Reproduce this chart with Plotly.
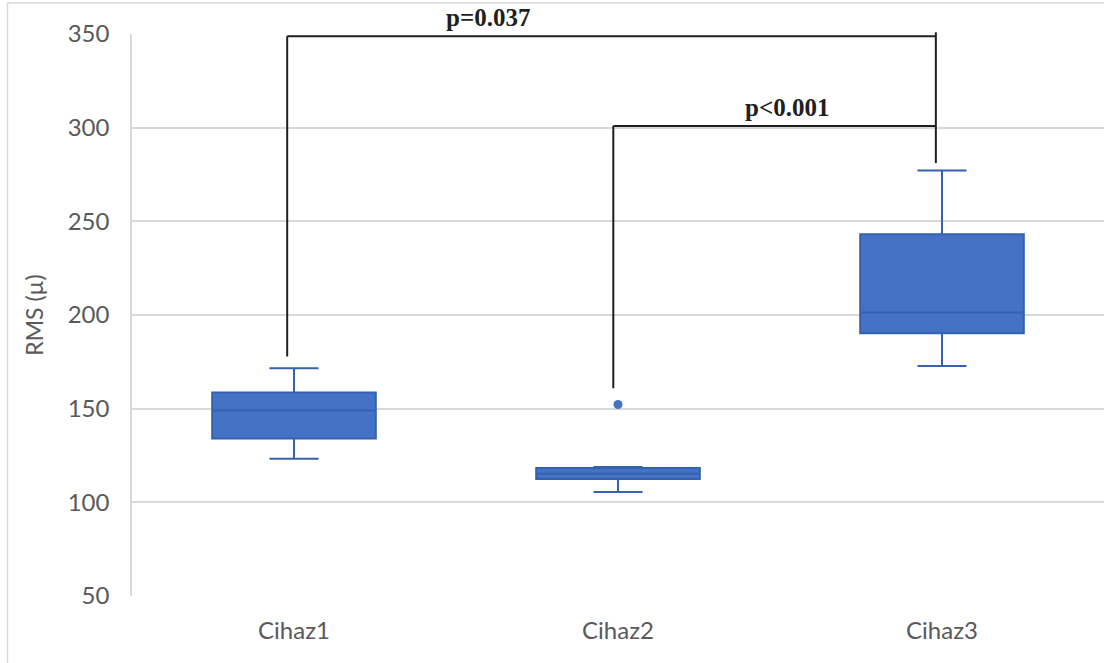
import plotly.graph_objects as go

# Box-plot summary statistics per device (RMS, µ)
categories = ["Cihaz1", "Cihaz2", "Cihaz3"]
q1 = [134.1, 112.4, 190.2]
median = [149.0, 115.3, 201.4]
q3 = [158.6, 118.3, 243.1]
lower_fence = [123.3, 105.5, 172.8]
upper_fence = [171.6, 118.8, 277.2]

# Outlying observations
outlier_x = ["Cihaz2"]
outlier_y = [152.2]

# Pairwise comparisons: (left group, right group, p-value label)
comparisons = [("Cihaz1", "Cihaz3", "p=0.037"), ("Cihaz2", "Cihaz3", "p<0.001")]

Y_MIN, Y_MAX = 50, 350
BLUE = "#4472C4"
EDGE = "#3661AE"
INK = "#1f1f1f"


def px(cat, shift=0.0):
    """Category position -> paper x."""
    return (categories.index(cat) + shift + 0.5) / len(categories)


def py(v):
    """Value -> paper y."""
    return (v - Y_MIN) / (Y_MAX - Y_MIN)


fig = go.Figure()

fig.add_trace(go.Box(
    x=categories,
    q1=q1, median=median, q3=q3,
    lowerfence=lower_fence, upperfence=upper_fence,
    fillcolor=BLUE,
    line=dict(color=EDGE, width=2),
    whiskerwidth=0.3,
    width=0.505,
    boxpoints=False,
    hoverinfo="skip",
    showlegend=False,
))

fig.add_trace(go.Scatter(
    x=outlier_x, y=outlier_y, mode="markers",
    marker=dict(color=BLUE, size=9),
    hoverinfo="skip", showlegend=False,
))

# Significance brackets
leg_shift = {"Cihaz1": -0.021, "Cihaz2": -0.0145, "Cihaz3": -0.019}
bracket_y = [348.8, 300.9]
left_leg_end = [177.8, 160.9]
right_top, right_bottom = 350.9, 281.1
label_pos = [(0.600, 353.9), (1.523, 305.6)]

shapes = []
line_style = dict(color=INK, width=2)
for (a, b, _), yb, yl in zip(comparisons, bracket_y, left_leg_end):
    xa, xb = px(a, leg_shift[a]), px(b, leg_shift[b])
    shapes.append(dict(type="line", xref="paper", yref="paper",
                       x0=xa, x1=xb, y0=py(yb), y1=py(yb), line=line_style))
    shapes.append(dict(type="line", xref="paper", yref="paper",
                       x0=xa, x1=xa, y0=py(yb), y1=py(yl), line=line_style))
xr = px("Cihaz3", leg_shift["Cihaz3"])
shapes.append(dict(type="line", xref="paper", yref="paper",
                   x0=xr, x1=xr, y0=py(right_top), y1=py(right_bottom), line=line_style))

# Outer chart frame
shapes.append(dict(type="rect", xref="paper", yref="paper",
                   x0=(7.5 - 132) / 972, x1=1.02, y0=-0.2, y1=(596.5 - 2.5) / 563,
                   line=dict(color="#d9d9d9", width=1.5), layer="below"))

annotations = []
for (_, _, text), (xl, yl) in zip(comparisons, label_pos):
    annotations.append(dict(
        x=(xl + 0.5) / len(categories), y=py(yl), xref="paper", yref="paper",
        text=f"<b>{text}</b>", showarrow=False, xanchor="center", yanchor="bottom",
        yshift=-6,
        font=dict(family="Liberation Serif", size=25, color=INK),
    ))

fig.update_layout(
    width=1104, height=663,
    margin=dict(l=132, r=0, t=33.5, b=66.5),
    paper_bgcolor="white", plot_bgcolor="white",
    font=dict(family="Lato", color="#595959"),
    shapes=shapes,
    annotations=annotations,
    xaxis=dict(
        type="category", range=[-0.5, 2.5],
        showgrid=False, zeroline=False,
        showline=False, ticks="",
        tickfont=dict(size=24, color="#595959"),
        ticklabelstandoff=18,
    ),
    yaxis=dict(
        range=[Y_MIN, Y_MAX], dtick=50, tick0=0,
        showgrid=True, gridcolor="#d9d9d9", gridwidth=1.5,
        zeroline=False,
        showline=True, linecolor="#d9d9d9", linewidth=1.5,
        ticks="", tickfont=dict(size=24, color="#595959"),
        ticklabelstandoff=16,
        title=dict(text="RMS (µ)", font=dict(size=23, color="#595959"), standoff=18),
    ),
)

fig.write_html("out.html")
